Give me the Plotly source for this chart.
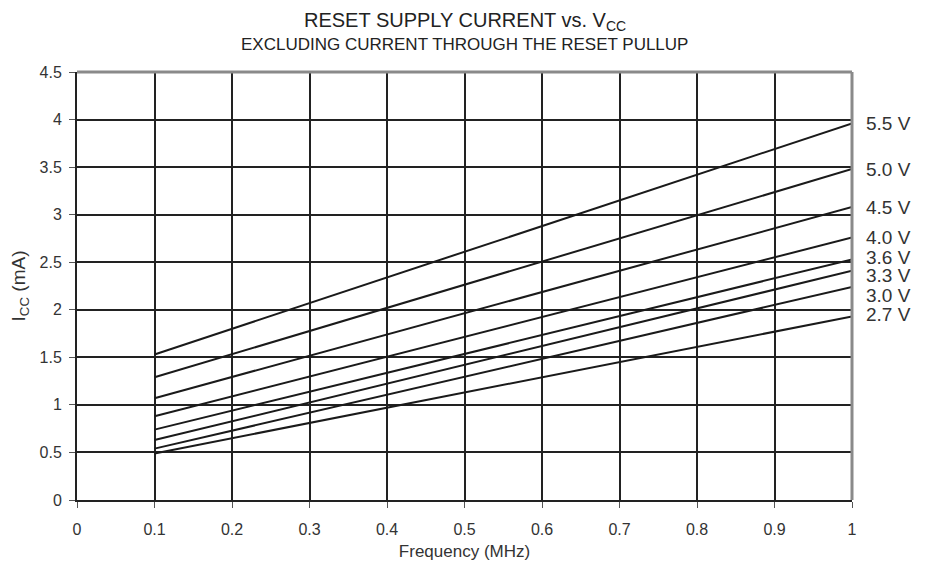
import plotly.graph_objects as go

FONT = "Liberation Sans, Arial, sans-serif"

freq_mhz = [0.1, 1.0]
vcc_labels = ["5.5 V", "5.0 V", "4.5 V", "4.0 V", "3.6 V", "3.3 V", "3.0 V", "2.7 V"]
icc_5v5 = [1.53, 3.96]
icc_5v0 = [1.29, 3.48]
icc_4v5 = [1.07, 3.08]
icc_4v0 = [0.88, 2.76]
icc_3v6 = [0.74, 2.53]
icc_3v3 = [0.63, 2.41]
icc_3v0 = [0.54, 2.24]
icc_2v7 = [0.49, 1.93]
label_y = [3.96, 3.48, 3.08, 2.76, 2.55, 2.36, 2.15, 1.95]

series = [icc_5v5, icc_5v0, icc_4v5, icc_4v0, icc_3v6, icc_3v3, icc_3v0, icc_2v7]

fig = go.Figure()

for name, ys in zip(vcc_labels, series):
    fig.add_trace(go.Scatter(
        x=freq_mhz, y=ys, mode="lines", name=name,
        line=dict(color="#1a1a1a", width=2),
        showlegend=False,
    ))

for name, y in zip(vcc_labels, label_y):
    fig.add_annotation(
        x=1.0, y=y, xref="x", yref="y", text=name,
        showarrow=False, xanchor="left", xshift=12,
        font=dict(family=FONT, size=19, color="#333"),
    )

fig.add_annotation(
    x=0.5, y=1.0, xref="paper", yref="paper", yanchor="middle", yshift=51,
    text="RESET SUPPLY CURRENT vs. V<sub>CC</sub>", showarrow=False,
    font=dict(family=FONT, size=20, color="#222"),
)
fig.add_annotation(
    x=0.5, y=1.0, xref="paper", yref="paper", yanchor="middle", yshift=28,
    text="EXCLUDING CURRENT THROUGH THE RESET PULLUP", showarrow=False,
    font=dict(family=FONT, size=17, color="#222"),
)

axis_common = dict(
    showgrid=True, gridcolor="#222", gridwidth=2,
    zeroline=False, showline=True, linecolor="#222", linewidth=2,
    ticks="outside", ticklen=6, tickcolor="#555",
    tickfont=dict(family=FONT, size=16, color="#333"),
    automargin=False,
)

fig.update_xaxes(
    range=[0, 1], dtick=0.1, ticklabelstandoff=8,
    title=dict(text="Frequency (MHz)", font=dict(family=FONT, size=17, color="#333"), standoff=15),
    **axis_common,
)
fig.update_yaxes(
    range=[0, 4.5], dtick=0.5, ticklabelstandoff=4,
    title=dict(text="I<sub>CC</sub> (mA)", font=dict(family=FONT, size=19, color="#333"), standoff=12),
    **axis_common,
)

# gray frame on top and right
fig.add_shape(type="line", xref="paper", yref="paper", x0=0, x1=1, y0=1, y1=1,
              line=dict(color="#8a8a8a", width=3))
fig.add_shape(type="line", xref="paper", yref="paper", x0=1, x1=1, y0=0, y1=1,
              line=dict(color="#8a8a8a", width=3))

# page body adds an 8px margin, so the figure is 16px smaller than the window
fig.update_layout(
    width=916, height=553,
    paper_bgcolor="white", plot_bgcolor="white",
    margin=dict(l=69, r=72, t=64, b=61),
    font=dict(family=FONT),
)

fig.write_html("out.html")
